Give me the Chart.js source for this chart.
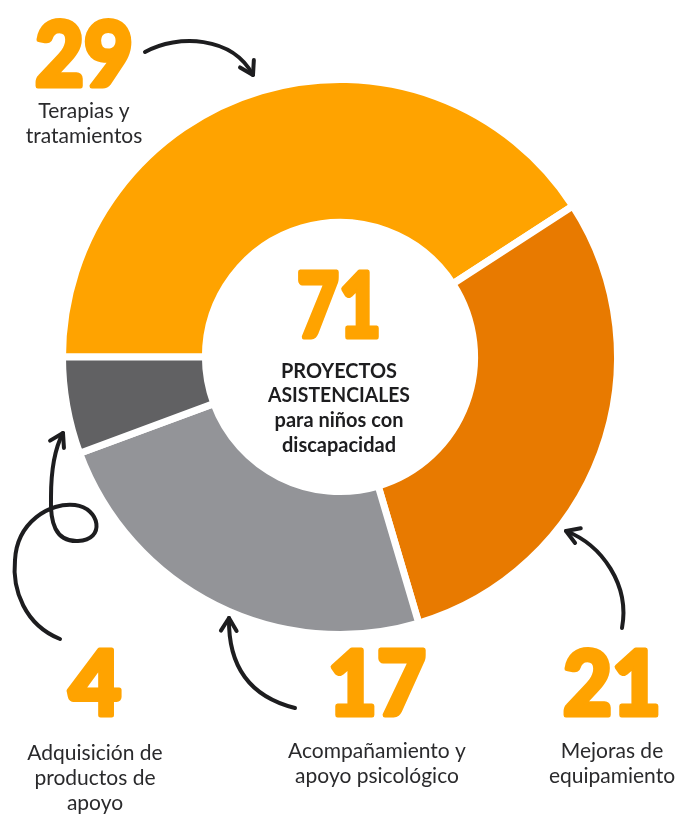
<!DOCTYPE html>
<html>
<head>
<meta charset="utf-8">
<script src="https://cdn.jsdelivr.net/npm/chart.js@4"></script>
<style>
  html, body { margin: 0; padding: 0; background: #ffffff; }
  #wrap { width: 675px; height: 814px; position: relative; }
</style>
</head>
<body>
<div id="wrap"><canvas id="chart"></canvas></div>
<script>
// data
const categories = ['Terapias y tratamientos', 'Mejoras de equipamiento', 'Acompañamiento y apoyo psicológico', 'Adquisición de productos de apoyo'];
const values = [29, 21, 17, 4];
const centerTitle = ['PROYECTOS', 'ASISTENCIALES', 'para niños con', 'discapacidad'];

const colors = ['#FFA300', '#E87A00', '#939498', '#616163'];
const numColor = '#FFA300';
const inkColor = '#1d1d1f';

// where each callout goes: number centre/baseline + lines of label text
const callouts = [
    { x: 84, y: 86, lines: ['Terapias y', 'tratamientos'], ly: 118 },
    { x: 612, y: 715, lines: ['Mejoras de', 'equipamiento'], ly: 758 },
    { x: 377, y: 715, lines: ['Acompañamiento y', 'apoyo psicológico'], ly: 758 },
    { x: 95, y: 715, lines: ['Adquisición de', 'productos de', 'apoyo'], ly: 760 }
];

function bigNumber(ctx, txt, x, y, maxW) {
    ctx.save();
    ctx.font = '900 90px Lato';
    ctx.textAlign = 'center';
    ctx.textBaseline = 'alphabetic';
    ctx.fillStyle = numColor;
    ctx.strokeStyle = numColor;
    ctx.lineWidth = 5;
    ctx.lineJoin = 'round';
    ctx.strokeText(txt, x, y, maxW);
    ctx.fillText(txt, x, y, maxW);
    ctx.restore();
}

function arrowHead(ctx, tip, from) {
    const ang = Math.atan2(tip[1] - from[1], tip[0] - from[0]);
    const L = 15, spread = 0.55;
    ctx.beginPath();
    ctx.moveTo(tip[0] - L * Math.cos(ang - spread), tip[1] - L * Math.sin(ang - spread));
    ctx.lineTo(tip[0], tip[1]);
    ctx.lineTo(tip[0] - L * Math.cos(ang + spread), tip[1] - L * Math.sin(ang + spread));
    ctx.stroke();
}

function curvedArrow(ctx, start, segs) {
    ctx.beginPath();
    ctx.moveTo(start[0], start[1]);
    segs.forEach(s => ctx.bezierCurveTo(s[0], s[1], s[2], s[3], s[4], s[5]));
    ctx.stroke();
    const last = segs[segs.length - 1];
    arrowHead(ctx, [last[4], last[5]], [last[2], last[3]]);
}

const decorPlugin = {
    id: 'decor',
    afterDraw(chart) {
        const ctx = chart.ctx;
        const meta = chart.getDatasetMeta(0);
        const arc = meta.data[0];
        const cx = arc.x, cy = arc.y;

        // centre total + title
        const total = values.reduce((a, b) => a + b, 0);
        bigNumber(ctx, String(total), cx - 1, cy - 20, 84);

        ctx.save();
        ctx.fillStyle = inkColor;
        ctx.textAlign = 'center';
        ctx.font = '700 21px Lato';
        ctx.fillText(centerTitle[0], cx - 1, cy + 21, 116);
        ctx.fillText(centerTitle[1], cx - 1, cy + 45, 142);
        ctx.font = '700 20px Lato';
        ctx.fillText(centerTitle[2], cx - 1, cy + 70, 134);
        ctx.fillText(centerTitle[3], cx - 1, cy + 95, 118);
        ctx.restore();

        // callouts
        callouts.forEach((c, i) => {
            bigNumber(ctx, String(values[i]), c.x, c.y, values[i] < 10 ? 60 : 98);
            ctx.save();
            ctx.fillStyle = '#2a2a2c';
            ctx.textAlign = 'center';
            ctx.font = '400 21px Lato';
            c.lines.forEach((t, j) => ctx.fillText(t, c.x, c.ly + j * 25));
            ctx.restore();
        });

        // hand drawn arrows
        ctx.save();
        ctx.strokeStyle = inkColor;
        ctx.lineWidth = 4;
        ctx.lineCap = 'round';
        ctx.lineJoin = 'round';
        curvedArrow(ctx, [145, 52], [[178, 34, 232, 36, 253, 75]]);
        curvedArrow(ctx, [60, 639], [
            [25, 625, 12, 590, 15, 560],
            [17, 522, 50, 502, 75, 505],
            [100, 508, 106, 540, 78, 541],
            [55, 542, 50, 522, 51, 497],
            [51, 472, 54, 450, 63, 433]
        ]);
        curvedArrow(ctx, [295, 708], [[255, 698, 228, 672, 229, 618]]);
        curvedArrow(ctx, [622, 628], [[630, 585, 602, 545, 566, 531]]);
        ctx.restore();
    }
};

const ctx = document.getElementById('chart').getContext('2d');
const chart = new Chart(ctx, {
    type: 'doughnut',
    data: {
        labels: categories,
        datasets: [{
            data: values,
            backgroundColor: colors,
            borderColor: '#ffffff',
            borderWidth: 7,
            hoverOffset: 0
        }]
    },
    options: {
        responsive: true,
        maintainAspectRatio: false,
        animation: false,
        rotation: -90,
        radius: 277.5,
        cutout: '48.5%',
        layout: { padding: { left: 5, right: 0, top: 0, bottom: 100 } },
        plugins: {
            legend: { display: false },
            tooltip: { enabled: false }
        }
    },
    plugins: [decorPlugin]
});
</script>
</body>
</html>
